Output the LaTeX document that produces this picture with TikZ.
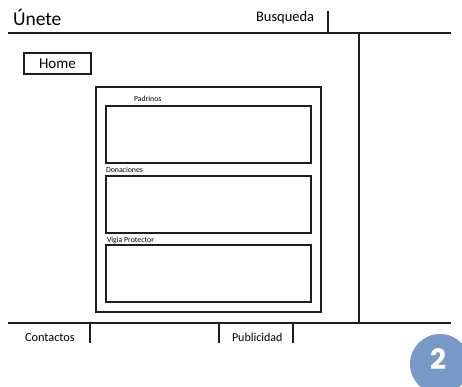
\documentclass[tikz,border=0pt]{standalone}
\usepackage{fontspec}
\setmainfont{Carlito}
\newfontfamily\badgefont{Poppins}
\definecolor{badgeblue}{RGB}{120,152,199}
\definecolor{ink}{RGB}{30,30,30}
\begin{document}
\begin{tikzpicture}[x=1pt,y=-1pt,every node/.style={inner sep=0pt,outer sep=0pt},
  rule/.style={draw=ink,line width=2.4pt},
  panel/.style={draw=ink,line width=2.9pt,rectangle,anchor=north west},
  tiny/.style={font=\fontsize{7.8}{9}\selectfont,anchor=base west}]
\useasboundingbox (0,0) rectangle (462,387);
% header
\node[font=\fontsize{19.5}{22}\selectfont,anchor=base west] (unete) at (13,26) {Únete};
\node[font=\fontsize{14.5}{17}\selectfont,anchor=base west] (busqueda) at (256,22) {Busqueda};
\coordinate (topl) at (8,33);
\coordinate (topr) at (451,33);
\draw[rule] (topl) -- (topr);
\draw[rule] (328,11) -- (328,33);
% side column
\draw[rule] (359,33) -- (359,323);
\draw[rule] (359,323) -- (451,323);
% home button
\node[panel,line width=2.6pt,minimum width=67pt,minimum height=21pt] (home) at (24,53) {};
\node[font=\fontsize{15}{18}\selectfont] at (home.center) {Home};
% content
\node[panel,line width=2.4pt,minimum width=225pt,minimum height=225pt] (content) at (96,87) {};
\node[panel,minimum width=205pt,minimum height=57pt] (padrinos) at (106,106) {};
\node[panel,minimum width=205pt,minimum height=57pt] (donaciones) at (106,176) {};
\node[panel,minimum width=205pt,minimum height=57pt] (vigia) at (106,245) {};
\node[tiny] (lpad) at (134,102) {Padrinos};
\node[tiny] (ldon) at (106,172) {Donaciones};
\node[tiny] (lvig) at (107,242) {Vigia Protector};
% footer
\draw[rule] (8,323) -- (359,323);
\draw[rule] (90,323) -- (90,343);
\draw[rule] (219,323) -- (219,343);
\draw[rule] (293,323) -- (293,343);
\node[font=\fontsize{12.3}{14}\selectfont,anchor=base west] (contactos) at (25,341) {Contactos};
\node[font=\fontsize{12}{14}\selectfont,anchor=base west] (publicidad) at (232,341) {Publicidad};
% page number
\node[circle,fill=badgeblue,minimum size=60pt] (badge) at (440,364) {};
\node[text=white,font=\badgefont\bfseries\fontsize{28}{30}\selectfont] at (438,359) {2};
\end{tikzpicture}
\end{document}
